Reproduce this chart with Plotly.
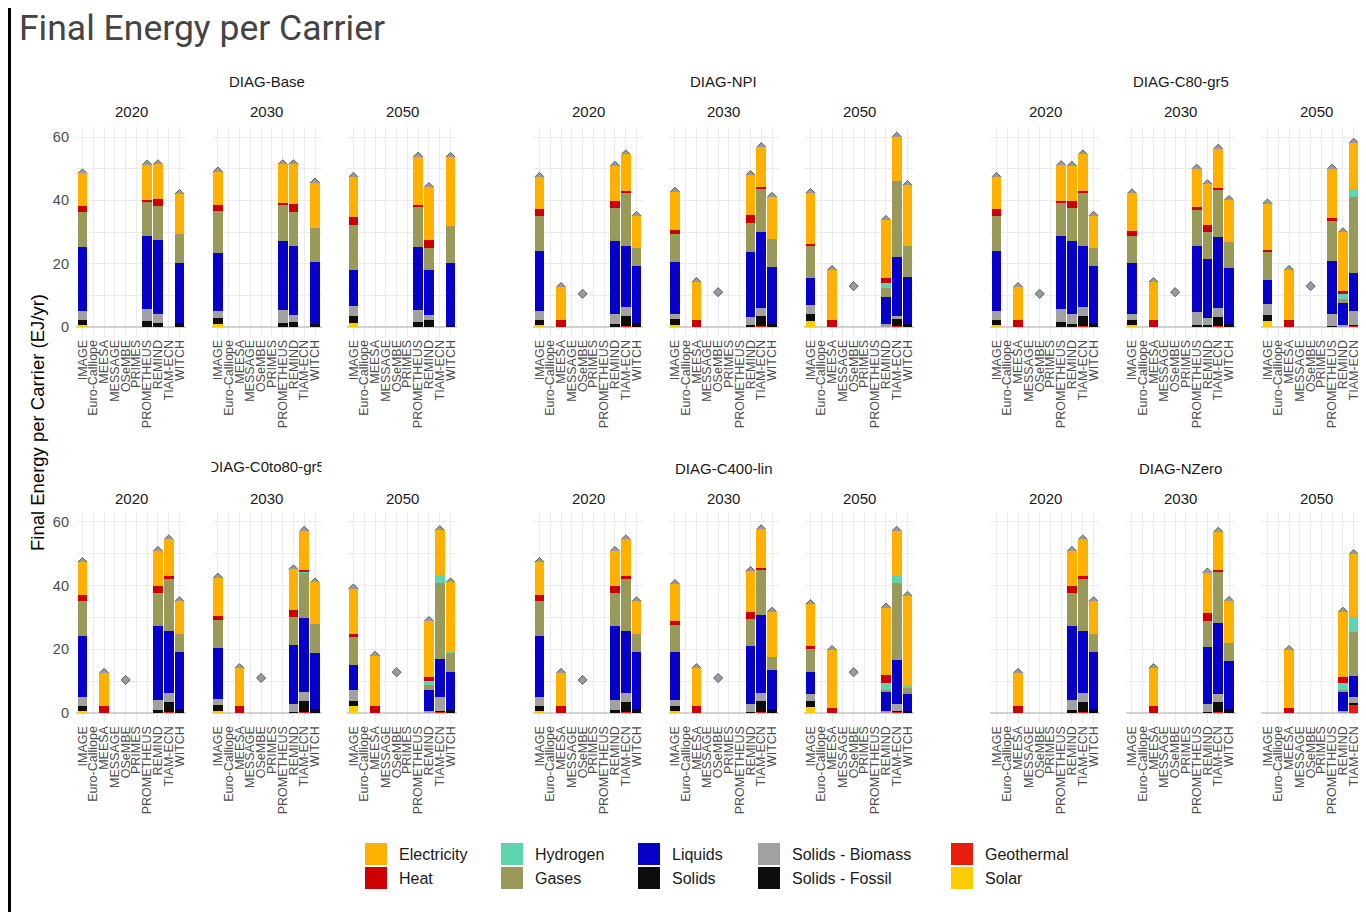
import plotly.graph_objects as go

# The page places the figure 8px from the top-left corner of the window,
# so all reference pixel positions are converted with this offset.
OFF = 8
W, H = 1366 - OFF, 912 - OFF

# ---------------- data ----------------
CARRIERS = ["Electricity", "Heat", "Hydrogen", "Gases", "Liquids", "Solids",
            "Solids - Biomass", "Solids - Fossil", "Geothermal", "Solar"]
COLORS = ["#FFB000", "#CC0000", "#5FD4B0", "#99995A", "#0700C8", "#0D0D0D",
          "#A1A1A4", "#0D0D0D", "#E81C0A", "#FFCC00"]
MODELS = ["IMAGE", "Euro-Calliope", "MEESA", "MESSAGE", "OSeMBE", "PRIMES",
          "PROMETHEUS", "REMIND", "TIAM-ECN", "WITCH"]
SCENARIOS = ["DIAG-Base", "DIAG-NPI", "DIAG-C80-gr5",
             "DIAG-C0to80-gr5", "DIAG-C400-lin", "DIAG-NZero"]
YEARS = ["2020", "2030", "2050"]
Y_TICKS = [0, 10, 20, 30, 40, 50, 60]
Y_TICK_TEXT = ["0", "", "20", "", "40", "", "60"]

# values per model in CARRIERS order:
# Elec, Heat, H2, Gases, Liquids, Solids, Biomass, Fossil, Geothermal, Solar
base_2020 = {
    "IMAGE":      [10.2, 2.1, 0, 11.0, 20.2, 0, 2.9, 1.6, 0, 0.5],
    "PROMETHEUS": [11.2, 0.6, 0, 10.7, 23.0, 0, 3.9, 1.9, 0, 0],
    "REMIND":     [11.0, 2.3, 0, 10.6, 23.3, 0, 2.9, 1.3, 0, 0],
    "WITCH":      [12.6, 0, 0, 9.3, 18.8, 0, 0, 1.3, 0, 0],
}
base_2030 = {
    "IMAGE":      [10.5, 2.1, 0, 13.0, 18.5, 0, 2.2, 2.0, 0, 0.8],
    "PROMETHEUS": [12.3, 0.7, 0, 11.1, 21.8, 0, 4.1, 1.4, 0, 0],
    "REMIND":     [12.6, 2.6, 0, 10.5, 21.8, 0, 2.3, 1.6, 0, 0],
    "WITCH":      [14.4, 0, 0, 10.7, 19.5, 0, 0, 1.0, 0, 0],
}
base_2050 = {
    "IMAGE":      [12.6, 2.5, 0, 14.2, 11.5, 0, 3.2, 2.2, 0, 1.2],
    "PROMETHEUS": [15.2, 0.6, 0, 12.7, 19.9, 0, 3.9, 1.5, 0, 0],
    "REMIND":     [16.7, 2.5, 0, 7.0, 14.2, 0, 1.6, 2.2, 0, 0],
    "WITCH":      [21.8, 0, 0, 11.7, 19.6, 0, 0, 0.6, 0, 0],
}
npi_2020 = {
    "IMAGE":    [10.2, 2.1, 0, 11.0, 19.1, 0, 2.9, 1.6, 0, 0.5],
    "MEESA":    [10.5, 2.1, 0, 0, 0, 0, 0, 0, 0, 0],
    "REMIND":   [11.0, 2.3, 0, 10.3, 23.1, 0, 3.2, 1.0, 0, 0],
    "TIAM-ECN": [11.5, 0.8, 0, 16.5, 19.4, 0, 2.8, 3.2, 0.3, 0],
    "WITCH":    [10.2, 0, 0, 5.7, 17.9, 0, 0, 1.3, 0, 0],
}
npi_2030 = {
    "IMAGE":    [12.1, 1.2, 0, 8.9, 16.3, 0, 1.8, 1.7, 0, 0.7],
    "MEESA":    [12.1, 2.1, 0, 0, 0, 0, 0, 0, 0, 0],
    "REMIND":   [12.6, 2.6, 0, 9.0, 20.7, 0, 2.5, 0.6, 0, 0],
    "TIAM-ECN": [12.5, 0.5, 0, 13.7, 24.0, 0, 2.6, 3.2, 0.3, 0],
    "WITCH":    [13.3, 0, 0, 8.7, 18.1, 0, 0, 1.0, 0, 0],
}
npi_2050 = {
    "IMAGE":    [16.1, 0.5, 0, 10.2, 8.5, 0, 2.8, 2.3, 0, 1.9],
    "MEESA":    [15.9, 2.1, 0, 0, 0, 0, 0, 0, 0, 0],
    "REMIND":   [18.3, 1.5, 1.6, 3.0, 8.6, 0, 0.8, 0, 0, 0],
    "TIAM-ECN": [13.9, 0, 0, 24.0, 18.8, 0, 0.8, 2.3, 0.3, 0],
    "WITCH":    [18.8, 0, 0.3, 9.8, 15.1, 0, 0, 0.8, 0, 0],
}
c80_2020 = {
    "IMAGE":      [10.2, 2.1, 0, 11.0, 19.1, 0, 2.9, 1.6, 0, 0.5],
    "MEESA":      [10.5, 2.1, 0, 0, 0, 0, 0, 0, 0, 0],
    "PROMETHEUS": [11.2, 0.7, 0, 10.6, 23.0, 0, 3.9, 1.7, 0, 0],
    "REMIND":     [11.0, 2.3, 0, 10.3, 23.1, 0, 3.2, 1.0, 0, 0],
    "TIAM-ECN":   [11.5, 0.8, 0, 16.5, 19.4, 0, 2.8, 3.2, 0.3, 0],
    "WITCH":      [10.2, 0, 0, 5.7, 17.9, 0, 0, 1.3, 0, 0],
}
c80_2030 = {
    "IMAGE":      [11.8, 1.6, 0, 8.6, 16.0, 0, 1.9, 1.6, 0, 0.7],
    "MEESA":      [12.1, 2.1, 0, 0, 0, 0, 0, 0, 0, 0],
    "PROMETHEUS": [12.2, 0.8, 0, 11.5, 20.8, 0, 4.0, 0.7, 0, 0],
    "REMIND":     [12.8, 2.2, 0, 8.6, 18.7, 0, 2.3, 0.5, 0, 0],
    "TIAM-ECN":   [12.5, 0.5, 0, 15.0, 22.3, 0, 2.9, 2.8, 0.3, 0],
    "WITCH":      [13.4, 0, 0, 8.0, 17.7, 0, 0, 1.0, 0, 0],
}
c80_2050 = {
    "IMAGE":      [14.7, 0.7, 0, 8.6, 7.7, 0, 3.4, 2.0, 0, 1.9],
    "MEESA":      [15.9, 2.1, 0, 0, 0, 0, 0, 0, 0, 0],
    "PROMETHEUS": [15.6, 0.8, 0, 12.9, 16.5, 0, 3.9, 0.3, 0, 0],
    "REMIND":     [18.4, 1.2, 1.6, 1.1, 7.1, 0, 0.5, 0, 0, 0],
    "TIAM-ECN":   [14.5, 0, 2.6, 24.1, 12.1, 0, 4.2, 0.4, 0.3, 0],
    "WITCH":      [22.5, 0, 0.4, 6.7, 11.0, 0, 0, 0.8, 0, 0],
}
c0to80_2020 = {
    "IMAGE":    [10.2, 2.1, 0, 11.0, 19.1, 0, 2.9, 1.6, 0, 0.5],
    "MEESA":    [10.5, 2.1, 0, 0, 0, 0, 0, 0, 0, 0],
    "REMIND":   [11.0, 2.3, 0, 10.3, 23.1, 0, 3.2, 1.0, 0, 0],
    "TIAM-ECN": [11.5, 0.8, 0, 16.5, 19.4, 0, 2.8, 3.2, 0.3, 0],
    "WITCH":    [10.2, 0, 0, 5.7, 17.9, 0, 0, 1.3, 0, 0],
}
c0to80_2030 = {
    "IMAGE":    [11.9, 1.4, 0, 8.8, 16.0, 0, 1.9, 1.8, 0, 0.7],
    "MEESA":    [12.0, 2.1, 0, 0, 0, 0, 0, 0, 0, 0],
    "REMIND":   [12.7, 2.3, 0, 8.7, 18.6, 0, 2.4, 0.4, 0, 0],
    "TIAM-ECN": [12.3, 0.6, 0.3, 14.0, 23.5, 0, 2.8, 3.3, 0.4, 0],
    "WITCH":    [13.1, 0, 0, 8.9, 17.7, 0, 0, 1.3, 0, 0],
}
c0to80_2050 = {
    "IMAGE":    [14.4, 0.7, 0, 8.9, 8.0, 0, 3.2, 1.8, 0, 2.1],
    "MEESA":    [15.9, 2.1, 0, 0, 0, 0, 0, 0, 0, 0],
    "REMIND":   [17.7, 1.1, 1.4, 1.4, 6.6, 0, 0.7, 0, 0, 0],
    "TIAM-ECN": [13.9, 0, 2.6, 24.0, 11.9, 0, 4.2, 0.4, 0.4, 0],
    "WITCH":    [21.7, 0, 0.4, 6.1, 11.8, 0, 0, 1.0, 0, 0],
}
c400_2020 = {
    "IMAGE":    [10.2, 2.1, 0, 11.0, 19.1, 0, 2.9, 1.6, 0, 0.5],
    "MEESA":    [10.5, 2.1, 0, 0, 0, 0, 0, 0, 0, 0],
    "REMIND":   [11.0, 2.3, 0, 10.3, 23.1, 0, 3.2, 1.0, 0, 0],
    "TIAM-ECN": [11.5, 0.8, 0, 16.5, 19.4, 0, 2.8, 3.2, 0.3, 0],
    "WITCH":    [10.2, 0, 0, 5.7, 17.9, 0, 0, 1.3, 0, 0],
}
c400_2030 = {
    "IMAGE":    [11.5, 1.3, 0, 8.4, 15.1, 0, 1.9, 1.5, 0, 0.8],
    "MEESA":    [12.0, 2.1, 0, 0, 0, 0, 0, 0, 0, 0],
    "REMIND":   [13.0, 2.2, 0, 8.5, 18.1, 0, 2.4, 0.4, 0, 0],
    "TIAM-ECN": [12.3, 0.5, 0, 14.1, 24.5, 0, 2.6, 3.3, 0.4, 0],
    "WITCH":    [14.1, 0, 0, 4.3, 12.1, 0, 0, 1.3, 0, 0],
}
c400_2050 = {
    "IMAGE":    [13.3, 0.8, 0, 7.1, 6.9, 0, 2.4, 1.8, 0, 1.9],
    "MEESA":    [18.2, 1.6, 0, 0, 0, 0, 0, 0, 0, 0],
    "REMIND":   [21.3, 2.4, 2.1, 0.8, 5.8, 0, 0.7, 0, 0, 0],
    "TIAM-ECN": [14.1, 0, 2.2, 24.2, 13.8, 0, 2.1, 0.5, 0.3, 0],
    "WITCH":    [28.1, 0, 0.6, 2.0, 5.3, 0, 0, 0.8, 0, 0],
}
nzero_2020 = {
    "MEESA":    [10.5, 2.1, 0, 0, 0, 0, 0, 0, 0, 0],
    "REMIND":   [11.0, 2.3, 0, 10.3, 23.1, 0, 3.2, 1.0, 0, 0],
    "TIAM-ECN": [11.5, 0.8, 0, 16.5, 19.4, 0, 2.8, 3.2, 0.3, 0],
    "WITCH":    [10.2, 0, 0, 5.7, 17.9, 0, 0, 1.3, 0, 0],
}
nzero_2030 = {
    "MEESA":    [12.0, 2.1, 0, 0, 0, 0, 0, 0, 0, 0],
    "REMIND":   [12.8, 2.4, 0, 8.3, 17.8, 0, 2.4, 0.4, 0, 0],
    "TIAM-ECN": [12.0, 0.5, 0, 16.0, 22.5, 0, 2.5, 3.0, 0.4, 0],
    "WITCH":    [13.3, 0, 0, 5.7, 14.9, 0, 0, 1.3, 0, 0],
}
nzero_2050 = {
    "MEESA":    [18.2, 1.6, 0, 0, 0, 0, 0, 0, 0, 0],
    "REMIND":   [20.6, 1.8, 2.3, 0.5, 5.9, 0, 0.7, 0, 0, 0],
    "TIAM-ECN": [19.8, 0, 4.5, 14.1, 6.6, 0, 1.6, 0.7, 2.6, 0],
    "WITCH":    [25.3, 0, 0.5, 4.7, 8.6, 0, 0, 0.8, 0, 0],
}
# OSeMBE reports only a total (2020, 2030, 2050)
osembe_total = {
    "DIAG-Base": [None, None, None],
    "DIAG-NPI": [10.5, 11.0, 12.9],
    "DIAG-C80-gr5": [10.5, 11.0, 12.9],
    "DIAG-C0to80-gr5": [10.4, 11.0, 12.8],
    "DIAG-C400-lin": [10.4, 11.0, 12.8],
    "DIAG-NZero": [None, None, None],
}

PANEL_DATA = [
    [base_2020, base_2030, base_2050],
    [npi_2020, npi_2030, npi_2050],
    [c80_2020, c80_2030, c80_2050],
    [c0to80_2020, c0to80_2030, c0to80_2050],
    [c400_2020, c400_2030, c400_2050],
    [nzero_2020, nzero_2030, nzero_2050],
]

# ---------------- layout geometry (window pixels) ----------------
PANEL_CX = [131, 266.5, 402, 588, 723.5, 859, 1045, 1180.5, 1316]
HALF_W = 55
ROW_Y = [(127.2, 336.5), (512.1, 722.6)]   # top, bottom
Y_RANGE = [-3, 63.1]
X_LO = -0.6
X_UNIT = 2 * HALF_W / 10.2
X_EDGE = 1366   # right edge of the visible window

FONT = "Liberation Sans, Arial, sans-serif"
GRID = "#EBEBEB"


def px(x):
    return (x - OFF) / W


def py(y):
    return 1 - (y - OFF) / H


fig = go.Figure()
layout = dict()

for p in range(18):
    row, col = divmod(p, 9)
    s = row * 3 + col // 3
    yi = col % 3
    k = p + 1
    xid = "x" if k == 1 else f"x{k}"
    yid = "y" if k == 1 else f"y{k}"
    ko = p + 19
    yoid = f"y{ko}"
    cx = PANEL_CX[col]
    x0, x1 = cx - HALF_W, cx + HALF_W
    x_hi = 9.6
    if x1 > X_EDGE:
        x_hi = 9.6 - (x1 - X_EDGE) / X_UNIT
        x1 = X_EDGE
    top, bot = ROW_Y[row]

    layout["xaxis" if k == 1 else f"xaxis{k}"] = dict(
        domain=[px(x0), px(x1)], range=[X_LO, x_hi], anchor=yid,
        tickmode="array", tickvals=list(range(len(MODELS))), ticktext=MODELS,
        tickangle=-90, showgrid=True, gridcolor=GRID, gridwidth=1.3,
        zeroline=False, showline=False, ticks="",
        tickfont=dict(family=FONT, size=12.5, color="#4D4D4D"),
        fixedrange=True)
    layout["yaxis" if k == 1 else f"yaxis{k}"] = dict(
        domain=[py(bot), py(top)], range=Y_RANGE, anchor=xid,
        tickmode="array", tickvals=Y_TICKS, ticktext=Y_TICK_TEXT,
        showticklabels=(col == 0), showgrid=True, gridcolor=GRID, gridwidth=1.3,
        zeroline=True, zerolinecolor="#D2D2D2", zerolinewidth=2,
        showline=False, ticks="", ticklabelstandoff=6,
        tickfont=dict(family=FONT, size=14.5, color="#4D4D4D"),
        fixedrange=True)
    layout[f"yaxis{ko}"] = dict(
        overlaying=yid, anchor=xid, range=Y_RANGE, visible=False,
        showgrid=False, zeroline=False, fixedrange=True)

    data = PANEL_DATA[s][yi]
    # totals (diamonds), drawn beneath the bars (bars sit on an overlaying axis)
    tot_x, tot_y = [], []
    for m, vals in data.items():
        tot_x.append(MODELS.index(m))
        tot_y.append(round(sum(vals), 2))
    ot = osembe_total[SCENARIOS[s]][yi]
    if ot is not None:
        tot_x.append(MODELS.index("OSeMBE"))
        tot_y.append(ot)
    fig.add_trace(go.Scatter(
        x=tot_x, y=tot_y, mode="markers", xaxis=xid, yaxis=yid,
        marker=dict(symbol="diamond", size=7, color="#9A9A9A",
                    line=dict(color="#5E5E5E", width=1)),
        showlegend=False, hoverinfo="skip"))

    # stacked bars: bottom of the stack is the last carrier
    for ci in range(len(CARRIERS) - 1, -1, -1):
        xs, ys = [], []
        for m, vals in data.items():
            if vals[ci] > 0:
                xs.append(MODELS.index(m))
                ys.append(vals[ci])
        if not xs:
            continue
        fig.add_trace(go.Bar(
            x=xs, y=ys, xaxis=xid, yaxis=yoid, width=0.9,
            marker=dict(color=COLORS[ci], line=dict(width=0)),
            name=CARRIERS[ci], showlegend=False))

# clipped facet label for DIAG-C0to80-gr5 (clipped to the strip width)
layout["xaxis37"] = dict(domain=[px(PANEL_CX[1] - HALF_W), px(PANEL_CX[1] + HALF_W)],
                         range=[0, 1], visible=False, anchor="y37", fixedrange=True)
layout["yaxis37"] = dict(domain=[py(484), py(452)], range=[0, 1],
                         visible=False, anchor="x37", fixedrange=True)
fig.add_trace(go.Scatter(
    x=[0.5], y=[0.5], xaxis="x37", yaxis="y37", mode="text",
    text=[SCENARIOS[3]], textposition="middle center", cliponaxis=True,
    textfont=dict(family=FONT, size=15, color="#1A1A1A"),
    showlegend=False, hoverinfo="skip"))

annotations = []
shapes = []

# title
annotations.append(dict(text="Final Energy per Carrier", x=px(18), y=py(28),
                        xref="paper", yref="paper", xanchor="left", yanchor="middle",
                        showarrow=False, borderpad=0,
                        font=dict(family="Roboto, sans-serif", size=35.5, color="#444444")))
# y-axis title
annotations.append(dict(text="Final Energy per Carrier (EJ/yr)", x=px(37), y=py(423),
                        xref="paper", yref="paper", xanchor="center", yanchor="middle",
                        textangle=-90, showarrow=False,
                        font=dict(family=FONT, size=18.5, color="#000000")))
# strip labels
SCEN_Y = [82, 468]
YEAR_Y = [111, 498]
for s, name in enumerate(SCENARIOS):
    row, g = divmod(s, 3)
    if s != 3:
        annotations.append(dict(text=name, x=px(PANEL_CX[g * 3 + 1]), y=py(SCEN_Y[row]),
                                xref="paper", yref="paper", xanchor="center", yanchor="middle",
                                showarrow=False, font=dict(family=FONT, size=15, color="#1A1A1A")))
    for yi, yr in enumerate(YEARS):
        annotations.append(dict(text=yr, x=px(PANEL_CX[g * 3 + yi]), y=py(YEAR_Y[row]),
                                xref="paper", yref="paper", xanchor="center", yanchor="middle",
                                showarrow=False, font=dict(family=FONT, size=15, color="#1A1A1A")))

# legend (5 columns x 2 rows, column-major)
LEG_X = [365, 501, 638, 758, 951]
LEG_Y = [843, 867]
SW = 22
for i, (name, colr) in enumerate(zip(CARRIERS, COLORS)):
    c, r = divmod(i, 2)
    x0 = LEG_X[c]
    y0 = LEG_Y[r]
    shapes.append(dict(type="rect", xref="paper", yref="paper",
                       x0=px(x0), x1=px(x0 + SW), y0=py(y0 + SW), y1=py(y0),
                       fillcolor=colr, line=dict(width=0)))
    annotations.append(dict(text=name, x=px(x0 + 32), y=py(y0 + SW / 2),
                            xref="paper", yref="paper", xanchor="left", yanchor="middle",
                            showarrow=False, font=dict(family=FONT, size=16, color="#1A1A1A")))

# dark strip on the left edge
shapes.append(dict(type="rect", xref="paper", yref="paper", x0=0, x1=px(11), y0=0, y1=1,
                   fillcolor="#000000", line=dict(width=0), layer="above"))

fig.update_layout(
    **layout,
    width=W, height=H, autosize=False,
    margin=dict(l=0, r=0, t=0, b=0),
    paper_bgcolor="white", plot_bgcolor="white",
    barmode="stack", bargap=0.1,
    showlegend=False,
    annotations=annotations, shapes=shapes,
    template="none",
    font=dict(family=FONT),
)

fig.write_html("out.html")
